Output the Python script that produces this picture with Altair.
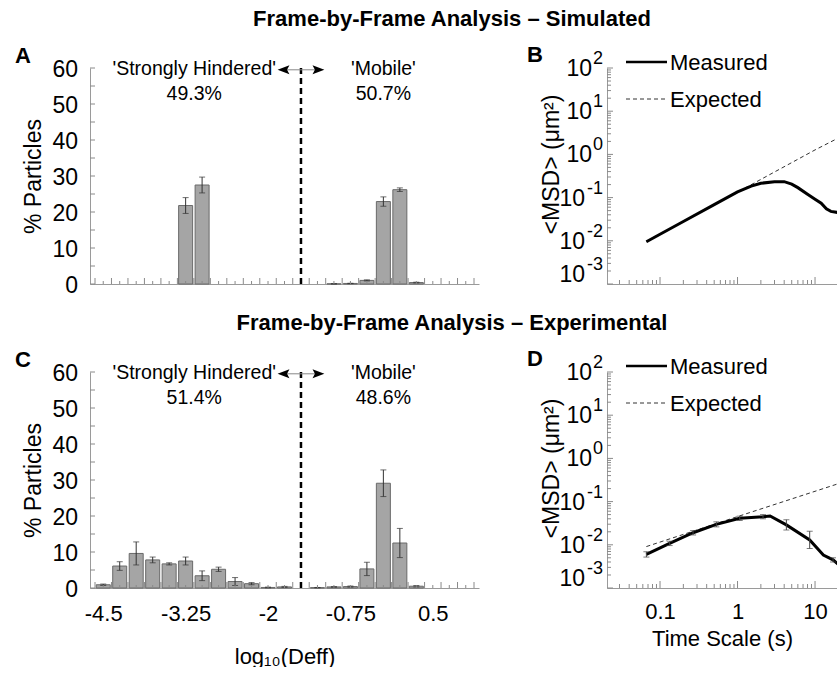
import altair as alt
import pandas as pd

FONT = "Liberation Sans, Arial, Helvetica, sans-serif"

# ---------------- data ----------------
bin_centers = [-4.5, -4.25, -4.0, -3.75, -3.5, -3.25, -3.0, -2.75, -2.5, -2.25, -2.0, -1.75,
               -1.5, -1.25, -1.0, -0.75, -0.5, -0.25, 0.0, 0.25, 0.5, 0.75, 1.0]
sim_pct = [0, 0, 0, 0, 0, 21.8, 27.5, 0, 0, 0, 0, 0,
           0, 0, 0.05, 0.15, 1.0, 22.9, 26.2, 0.4, 0, 0, 0]
sim_err = [0, 0, 0, 0, 0, 2.2, 2.2, 0, 0, 0, 0, 0,
           0, 0, 0.05, 0.05, 0.15, 1.3, 0.5, 0.1, 0, 0, 0]
exp_pct = [0.9, 6.1, 9.6, 7.8, 6.7, 7.5, 3.4, 5.2, 1.8, 1.2, 0.15, 0.3,
           0, 0.1, 0.3, 0.4, 5.3, 29.1, 12.5, 0.5, 0, 0, 0]
exp_err = [0.2, 1.2, 3.2, 0.8, 0.3, 1.1, 1.35, 0.6, 1.1, 0.3, 0.1, 0.15,
           0, 0.05, 0.1, 0.15, 1.85, 3.7, 4.05, 0.2, 0, 0, 0]
hist_tick_labels = [-4.5, -3.25, -2.0, -0.75, 0.5]
pct_tick_labels = [0, 10, 20, 30, 40, 50, 60]
divider = -1.5
sim_text = ["'Strongly Hindered'", "49.3%", "'Mobile'", "50.7%"]
exp_text = ["'Strongly Hindered'", "51.4%", "'Mobile'", "48.6%"]
text_x = [-3.12, -3.12, -0.25, -0.25]
text_y = [59.6, 52.8, 59.6, 52.8]

# MSD, simulated
sim_t = [0.0667, 0.1, 0.2, 0.5, 1.0, 1.5, 2.0, 3.0, 4.0, 5.0, 6.0, 8.0, 10.0, 12.0, 14.0, 16.0, 20.0]
sim_msd = [0.0095, 0.0142, 0.0279, 0.0687, 0.135, 0.185, 0.215, 0.232, 0.234, 0.205, 0.17,
           0.12, 0.092, 0.074, 0.055, 0.048, 0.045]
sim_fit_t = [0.0667, 1.0, 10.0, 20.0]
sim_fit_msd = [0.0095, 0.134, 1.27, 2.4]

# MSD, experimental
exp_t = [0.0667, 0.133, 0.267, 0.533, 1.067, 2.133, 2.63, 4.267, 8.533, 12.8, 17.07, 20.0]
exp_msd = [0.0060, 0.0108, 0.019, 0.0298, 0.041, 0.0448, 0.0465, 0.0289, 0.013, 0.0058, 0.0045, 0.0035]
exp_pt_t = [0.0667, 0.133, 0.267, 0.533, 1.067, 2.133, 4.267, 8.533, 17.07]
exp_pt_lo = [0.0052, 0.0096, 0.0169, 0.026, 0.0365, 0.040, 0.022, 0.0082, 0.0040]
exp_pt_hi = [0.0069, 0.0121, 0.0213, 0.034, 0.046, 0.050, 0.038, 0.0206, 0.0050]
exp_fit_t = [0.0667, 1.0, 20.0]
exp_fit_msd = [0.0091, 0.045, 0.26]

decades = [100, 10, 1, 0.1, 0.01, 0.001]
decade_exp = ["2", "1", "0", "-1", "-2", "-3"]

# ---------------- layout constants ----------------
HW, HH = 389, 216      # histogram panel plot size
MW, MH = 230, 216      # msd panel plot size
AXC = "#9a9a9a"
TICKC = "#8a8a8a"
BAR_FILL = "#a5a5a5"
BAR_STROKE = "#6a6a6a"
ERR = "#333333"


def one(**kw):
    return pd.DataFrame({k: [v] for k, v in kw.items()})


def hist_panel(pct, err, texts, letter, title, bottom):
    xs = alt.Scale(domain=[-4.625, 1.125], nice=False, zero=False)
    ys = alt.Scale(domain=[0, 60], nice=False, zero=False)
    df = pd.DataFrame({"x": bin_centers, "p": pct, "e": err})
    df["lo"] = df["p"] - df["e"]
    df["hi"] = df["p"] + df["e"]
    bars_df = df[df["p"] > 0]
    err_df = df[df["e"] > 0]

    if bottom:
        xaxis = alt.Axis(values=hist_tick_labels, ticks=False, labelPadding=15,
                         title="log₁₀(Deff)", titlePadding=22, domainColor=AXC,
                         labelFlush=False, labelOverlap=False, labelExpr="'' + datum.value")
    else:
        xaxis = alt.Axis(values=hist_tick_labels, ticks=False, labels=False,
                         title="", domainColor=AXC)
    yaxis = alt.Axis(values=pct_tick_labels, ticks=False, labels=False,
                     title="% Particles", titlePadding=45, titleFontSize=23,
                     domainColor=AXC)

    X = lambda f: alt.X(f, scale=xs)
    Y = lambda f: alt.Y(f, scale=ys)

    bars = alt.Chart(bars_df).mark_bar(size=14, color=BAR_FILL, stroke=BAR_STROKE,
                                       strokeWidth=1).encode(
        x=alt.X("x:Q", scale=xs, axis=xaxis),
        y=alt.Y("p:Q", scale=ys, axis=yaxis),
    )
    ebar = alt.Chart(err_df).mark_rule(color=ERR, strokeWidth=1).encode(
        x=X("x:Q"), y=Y("lo:Q"), y2="hi:Q")
    caps = alt.Chart(err_df).transform_fold(["lo", "hi"]).mark_tick(
        orient="horizontal", size=6, thickness=1, color=ERR).encode(
        x=X("x:Q"), y=Y("value:Q"))

    edges = [c - 0.125 for c in bin_centers] + [bin_centers[-1] + 0.125]
    long_t = alt.Chart(pd.DataFrame({"x": edges})).mark_rule(color=TICKC, strokeWidth=1).encode(
        x=X("x:Q"), y=alt.value(HH), y2=alt.value(HH - 6))
    short_t = alt.Chart(pd.DataFrame({"x": bin_centers})).mark_rule(color=TICKC, strokeWidth=1).encode(
        x=X("x:Q"), y=alt.value(HH), y2=alt.value(HH - 3))
    yt = alt.Chart(pd.DataFrame({"p": list(range(0, 61, 5))})).mark_rule(
        color=TICKC, strokeWidth=1).encode(
        y=Y("p:Q"), x=alt.value(0), x2=alt.value(5))
    ylab = alt.Chart(pd.DataFrame({"p": pct_tick_labels})).mark_text(
        font=FONT, fontSize=23, align="right", baseline="middle", dy=2).encode(
        y=Y("p:Q"), x=alt.value(-12), text="p:Q")

    dash = alt.Chart(one(x=divider, p=0, b=60)).mark_rule(
        color="black", strokeWidth=2.5, strokeDash=[6, 4]).encode(
        x=X("x:Q"), y=Y("p:Q"), y2="b:Q")
    shaft = alt.Chart(pd.DataFrame({"x": [divider, divider], "b": [-1.8, -1.2],
                                    "p": [59.5, 59.5]})).mark_rule(
        color="#888888", strokeWidth=1).encode(
        x=X("x:Q"), x2="b:Q", y=Y("p:Q"))
    head_l = alt.Chart(one(x=-1.765, p=59.5)).mark_point(
        shape="M-1,0L1,-0.75L0.6,0L1,0.75Z", size=140, filled=True, color="black",
        opacity=1, strokeWidth=0).encode(x=X("x:Q"), y=Y("p:Q"))
    head_r = alt.Chart(one(x=-1.235, p=59.5)).mark_point(
        shape="M1,0L-1,-0.75L-0.6,0L-1,0.75Z", size=140, filled=True, color="black",
        opacity=1, strokeWidth=0).encode(x=X("x:Q"), y=Y("p:Q"))

    txt = alt.Chart(pd.DataFrame({"x": text_x, "p": text_y, "t": texts})).mark_text(
        font=FONT, fontSize=19.5, color="black", baseline="middle").encode(
        x=X("x:Q"), y=Y("p:Q"), text="t:N")

    let = alt.Chart(one(t=letter)).mark_text(
        font=FONT, fontSize=22, fontWeight="bold", align="left", baseline="middle").encode(
        x=alt.value(-75), y=alt.value(-12), text="t:N")
    ttl = alt.Chart(one(t=title)).mark_text(
        font=FONT, fontSize=22, fontWeight="bold", align="center", baseline="middle").encode(
        x=alt.value(362), y=alt.value(-49), text="t:N")

    return alt.layer(bars, ebar, caps, long_t, short_t, yt, ylab, dash, shaft, head_l, head_r,
                     txt, let, ttl).properties(width=HW, height=HH)


def msd_panel(mt, mm, ft, fm, letter, bottom, pts=None):
    xs = alt.Scale(type="log", domain=[0.0207, 19.2], nice=False)
    ys = alt.Scale(type="log", domain=[0.001, 100], nice=False)
    if bottom:
        xaxis = alt.Axis(values=[0.1, 1, 10], ticks=False, labelPadding=13,
                         labelExpr="'' + datum.value",
                         title="Time Scale (s)", titlePadding=6, domainColor=AXC,
                         labelFlush=False, labelOverlap=False)
    else:
        xaxis = alt.Axis(values=[0.1, 1, 10], ticks=False, labels=False, title="",
                         domainColor=AXC)
    yaxis = alt.Axis(values=decades, ticks=False, labels=False, title="<MSD> (μm²)",
                     titlePadding=44, titleFontSize=23, titleY=96, domainColor=AXC)
    X = lambda f: alt.X(f, scale=xs)
    Y = lambda f: alt.Y(f, scale=ys)

    fit = alt.Chart(pd.DataFrame({"t": ft, "m": fm})).mark_line(
        color="#333333", strokeWidth=1, strokeDash=[4, 3], clip=True).encode(
        x=alt.X("t:Q", scale=xs, axis=xaxis), y=alt.Y("m:Q", scale=ys, axis=yaxis))
    meas = alt.Chart(pd.DataFrame({"t": mt, "m": mm})).mark_line(
        color="black", strokeWidth=3, clip=True).encode(x=X("t:Q"), y=Y("m:Q"))
    layers = [fit, meas]
    if pts is not None:
        pdf = pd.DataFrame({"t": pts[0], "lo": pts[1], "hi": pts[2]})
        layers.append(alt.Chart(pdf).mark_rule(color="#444444", strokeWidth=1).encode(
            x=X("t:Q"), y=Y("lo:Q"), y2="hi:Q"))
        layers.append(alt.Chart(pdf).transform_fold(["lo", "hi"], as_=["k", "m"]).mark_tick(
            orient="horizontal", size=6, thickness=1, color="#444444").encode(
            x=X("t:Q"), y=Y("m:Q")))

    minor_x = [m * 10.0 ** e for e in (-2, -1, 0, 1) for m in range(2, 10)]
    minor_x = [v for v in minor_x if 0.0207 < v < 19.2]
    layers.append(alt.Chart(pd.DataFrame({"t": [0.1, 1, 10]})).mark_rule(color=TICKC).encode(
        x=X("t:Q"), y=alt.value(MH), y2=alt.value(MH - 7)))
    layers.append(alt.Chart(pd.DataFrame({"t": minor_x})).mark_rule(color=TICKC).encode(
        x=X("t:Q"), y=alt.value(MH), y2=alt.value(MH - 4)))
    minor_y = [m * 10.0 ** e for e in (-3, -2, -1, 0, 1) for m in range(2, 10)]
    layers.append(alt.Chart(pd.DataFrame({"m": decades})).mark_rule(color=TICKC).encode(
        y=Y("m:Q"), x=alt.value(0), x2=alt.value(6)))
    layers.append(alt.Chart(pd.DataFrame({"m": minor_y})).mark_rule(color=TICKC).encode(
        y=Y("m:Q"), x=alt.value(0), x2=alt.value(4)))

    lab = pd.DataFrame({"m": decades, "e": decade_exp})
    lab["neg"] = lab["e"].str.startswith("-")
    lab["low"] = lab["m"] < 0.005
    # base "10" of each decade label (the lowest one is raised, as in the original)
    for neg, low, bx, dy in ((False, False, -15, 1), (True, False, -22, 1), (True, True, -22, -9)):
        sub = lab[(lab["neg"] == neg) & (lab["low"] == low)]
        layers.append(alt.Chart(sub).mark_text(
            font=FONT, fontSize=23, align="right", baseline="middle", dy=dy).encode(
            y=Y("m:Q"), x=alt.value(bx), text=alt.value("10")))
    for low, dy in ((False, -9), (True, -19)):
        sub = lab[lab["low"] == low]
        layers.append(alt.Chart(sub).mark_text(
            font=FONT, fontSize=18, align="right", baseline="middle", dy=dy).encode(
            y=Y("m:Q"), x=alt.value(-4), text="e:N"))

    # legend
    layers.append(alt.Chart(one(a=1)).mark_rule(color="black", strokeWidth=2.5).encode(
        x=alt.value(19), x2=alt.value(60), y=alt.value(-6)))
    layers.append(alt.Chart(one(a=1)).mark_rule(color="#333333", strokeWidth=1,
                                                 strokeDash=[4, 3]).encode(
        x=alt.value(19), x2=alt.value(60), y=alt.value(31)))
    layers.append(alt.Chart(pd.DataFrame({"t": ["Measured", "Expected"], "yy": [-5, 32]})).mark_text(
        font=FONT, fontSize=22, align="left", baseline="middle").encode(
        x=alt.value(63), y=alt.Y("yy:Q", scale=None), text="t:N"))

    layers.append(alt.Chart(one(t=letter)).mark_text(
        font=FONT, fontSize=22, fontWeight="bold", align="left", baseline="middle").encode(
        x=alt.value(-80), y=alt.value(-13), text="t:N"))
    return alt.layer(*layers).properties(width=MW, height=MH)


A = hist_panel(sim_pct, sim_err, sim_text, "A", "Frame-by-Frame Analysis – Simulated", False)
B = msd_panel(sim_t, sim_msd, sim_fit_t, sim_fit_msd, "B", False)
C = hist_panel(exp_pct, exp_err, exp_text, "C", "Frame-by-Frame Analysis – Experimental", True)
D = msd_panel(exp_t, exp_msd, exp_fit_t, exp_fit_msd, "D", True,
              pts=(exp_pt_t, exp_pt_lo, exp_pt_hi))

chart = alt.concat(A, B, C, D, columns=2, spacing={"row": 88, "column": 128},
                   bounds="flush").properties(
    padding={"left": 15, "top": 8, "right": 0, "bottom": 0}
).configure_view(strokeWidth=0).configure_axis(
    labelFont=FONT, titleFont=FONT, labelFontSize=22, titleFontSize=22,
    labelColor="black", titleColor="black", titleFontWeight="normal", grid=False,
    domainWidth=1, labelOverlap=False)

chart.save("out.html", embed_options={"renderer": "svg", "actions": False})
